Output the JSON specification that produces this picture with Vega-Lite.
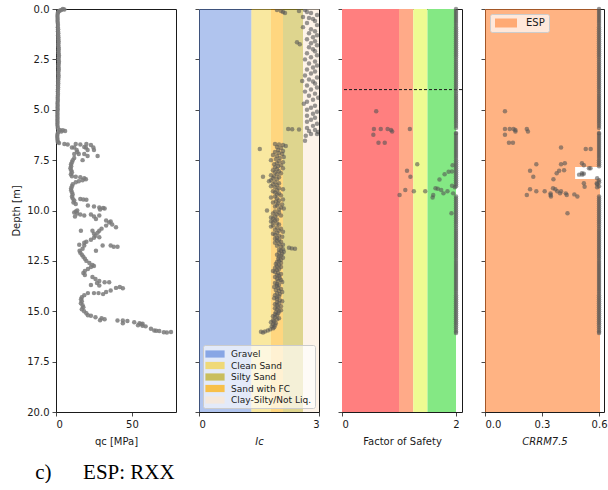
{
"$schema": "https://vega.github.io/schema/vega-lite/v6.json",
"padding": {"left": 11, "top": 3, "right": 0, "bottom": 0},
"background": "white",
"datasets": {
"qc": [
{"d":0.0,"v":4.5},{"d":0.02,"v":5.5},{"d":0.05,"v":3.5},{"d":0.08,"v":2.5},{"d":0.1,"v":2},{"d":0.15,"v":1.5},{"d":0.2,"v":1.2},{"d":0.3,"v":1.0},
{"d":0.4,"v":1.0},{"d":0.5,"v":1.1},{"d":0.6,"v":1.0},{"d":0.7,"v":1.2},{"d":0.8,"v":1.3},{"d":0.9,"v":1.2},{"d":1.0,"v":1.4},{"d":1.1,"v":1.3},{"d":1.2,"v":1.5},{"d":1.3,"v":1.4},{"d":1.4,"v":1.6},{"d":1.5,"v":1.5},{"d":1.6,"v":1.7},{"d":1.7,"v":1.6},{"d":1.8,"v":1.5},{"d":1.9,"v":1.7},{"d":2.0,"v":1.8},{"d":2.1,"v":1.6},{"d":2.2,"v":1.7},{"d":2.3,"v":1.9},{"d":2.4,"v":1.8},{"d":2.5,"v":1.7},{"d":2.6,"v":1.9},{"d":2.7,"v":1.8},{"d":2.8,"v":1.6},{"d":2.9,"v":1.7},{"d":3.0,"v":1.8},{"d":3.1,"v":1.6},{"d":3.2,"v":1.5},{"d":3.3,"v":1.7},{"d":3.4,"v":1.6},{"d":3.5,"v":1.5},{"d":3.6,"v":1.4},{"d":3.7,"v":1.5},{"d":3.8,"v":1.3},{"d":3.9,"v":1.4},{"d":4.0,"v":1.3},{"d":4.1,"v":1.2},{"d":4.2,"v":1.3},{"d":4.3,"v":1.2},{"d":4.4,"v":1.1},{"d":4.5,"v":1.2},{"d":4.6,"v":1.1},{"d":4.7,"v":1.0},{"d":4.8,"v":1.1},{"d":4.9,"v":1.0},{"d":5.0,"v":1.1},{"d":5.1,"v":0.9},{"d":5.2,"v":1.0},{"d":5.3,"v":0.9},{"d":5.4,"v":1.0},{"d":5.5,"v":0.9},{"d":5.6,"v":1.0},{"d":5.7,"v":0.9},{"d":5.8,"v":1.0},{"d":5.9,"v":1.2},{"d":6.0,"v":2.5},{"d":6.02,"v":4.5},{"d":6.05,"v":6},{"d":6.08,"v":3.5},{"d":6.1,"v":1.5},{"d":6.2,"v":1},{"d":6.3,"v":0.8},{"d":6.4,"v":0.9},{"d":6.5,"v":1.0},{"d":6.6,"v":1.2},{"d":6.65,"v":2},{"d":6.7,"v":5.5},
{"d":6.72,"v":7.7},{"d":6.7,"v":13},{"d":6.72,"v":16},{"d":6.7,"v":20},{"d":6.75,"v":23},{"d":6.87,"v":10.5},{"d":6.87,"v":12},{"d":6.85,"v":18.6},{"d":6.88,"v":19.7},{"d":6.87,"v":24.6},{"d":7.0,"v":13.6},{"d":7.0,"v":20.8},{"d":7.0,"v":25},{"d":7.1,"v":14},{"d":7.2,"v":12},{"d":7.2,"v":15},{"d":7.2,"v":18.6},{"d":7.3,"v":27.4},{"d":7.3,"v":20.8},{"d":7.4,"v":12},{"d":7.5,"v":11},{"d":7.5,"v":17.5},{"d":7.6,"v":10.5},{"d":7.7,"v":9.9},{"d":7.8,"v":10},{"d":7.9,"v":9.5},{"d":8.0,"v":10},{"d":8.1,"v":10.5},{"d":8.2,"v":9.8},{"d":8.3,"v":10.5},{"d":8.32,"v":13},{"d":8.35,"v":16},{"d":8.4,"v":18.6},{"d":8.45,"v":19.7},{"d":8.5,"v":17.5},{"d":8.55,"v":15},{"d":8.6,"v":13},{"d":8.7,"v":11},{"d":8.8,"v":10.5},{"d":8.9,"v":10},{"d":9.0,"v":10},{"d":9.1,"v":10.5},{"d":9.2,"v":11},{"d":9.3,"v":10.5},{"d":9.4,"v":11},{"d":9.43,"v":16},{"d":9.45,"v":18},{"d":9.47,"v":20},{"d":9.5,"v":12},{"d":9.6,"v":11.5},{"d":9.68,"v":13},{"d":9.75,"v":21},{"d":9.8,"v":25},{"d":9.85,"v":28.5},{"d":9.88,"v":31},{"d":9.9,"v":32},{"d":9.95,"v":29},{"d":10.0,"v":14},{"d":10.05,"v":13},{"d":10.1,"v":12},{"d":10.15,"v":14},{"d":10.2,"v":16},{"d":10.2,"v":23},{"d":10.25,"v":18.6},{"d":10.25,"v":28.5},{"d":10.3,"v":12.5},{"d":10.3,"v":25},{"d":10.42,"v":26.3},{"d":10.5,"v":33},{"d":10.55,"v":36},{"d":10.6,"v":35},{"d":10.7,"v":37},{"d":10.75,"v":33},{"d":10.83,"v":39.5},{"d":10.9,"v":30},{"d":11.0,"v":16.4},{"d":11.0,"v":24},{"d":11.0,"v":28.5},{"d":11.1,"v":27.4},{"d":11.15,"v":25},{"d":11.25,"v":26},{"d":11.33,"v":28.5},{"d":11.35,"v":25},{"d":11.45,"v":23},{"d":11.55,"v":20},{"d":11.6,"v":18.6},{"d":11.7,"v":15.3},{"d":11.74,"v":18.6},{"d":11.74,"v":30.7},{"d":11.74,"v":36},{"d":11.8,"v":40.5},{"d":11.8,"v":38},{"d":11.9,"v":17.5},{"d":12.0,"v":26.3},{"d":12.0,"v":15.5},{"d":12.1,"v":16},{"d":12.2,"v":17},{"d":12.3,"v":18},{"d":12.4,"v":19},{"d":12.5,"v":20},{"d":12.6,"v":22},{"d":12.7,"v":24},{"d":12.75,"v":25},{"d":12.8,"v":23},{"d":12.9,"v":21},{"d":13.0,"v":19},{"d":13.1,"v":18},{"d":13.2,"v":19},{"d":13.3,"v":24},{"d":13.4,"v":26},{"d":13.5,"v":28.5},{"d":13.56,"v":32},{"d":13.56,"v":35},{"d":13.6,"v":27},{"d":13.7,"v":23},{"d":13.72,"v":28.5},{"d":13.84,"v":39.5},{"d":13.86,"v":44},{"d":13.8,"v":42},{"d":13.97,"v":36},{"d":14.05,"v":33},{"d":14.1,"v":21},{"d":14.1,"v":25},{"d":14.1,"v":28},{"d":14.15,"v":31},{"d":14.2,"v":18.6},{"d":14.3,"v":17},{"d":14.4,"v":16.5},{"d":14.5,"v":17},{"d":14.6,"v":16.4},{"d":14.7,"v":17.5},{"d":14.8,"v":18},{"d":14.9,"v":17},{"d":15.0,"v":18.5},{"d":15.1,"v":20},{"d":15.2,"v":21},{"d":15.22,"v":23},{"d":15.3,"v":26},{"d":15.35,"v":30},{"d":15.4,"v":32},{"d":15.45,"v":29},{"d":15.46,"v":40.5},{"d":15.46,"v":44},{"d":15.48,"v":47},{"d":15.6,"v":44},{"d":15.55,"v":51.5},{"d":15.6,"v":55},{"d":15.62,"v":57},{"d":15.65,"v":56},{"d":15.7,"v":54},{"d":15.72,"v":57},{"d":15.75,"v":59},{"d":15.87,"v":62.5},{"d":15.95,"v":64.7},{"d":15.97,"v":66},{"d":15.98,"v":68},{"d":16.04,"v":71},{"d":16.05,"v":73},{"d":16.03,"v":75.7}
],
"ic": [
{"d":0.05,"v":1.95},{"d":0.1,"v":2.05},{"d":0.15,"v":2.1},{"d":0.2,"v":2.15},{"d":0.1,"v":2.5},{"d":0.05,"v":2.65},{"d":0.15,"v":2.7},{"d":0.2,"v":2.8},{"d":0.3,"v":2.95},{"d":0.4,"v":2.6},{"d":0.45,"v":2.75},{"d":0.5,"v":2.85},{"d":0.6,"v":2.9},{"d":0.7,"v":2.7},{"d":0.8,"v":2.95},{"d":0.9,"v":2.6},{"d":1.0,"v":2.8},{"d":1.1,"v":2.9},{"d":1.2,"v":2.75},{"d":1.3,"v":2.95},{"d":1.4,"v":2.85},{"d":1.5,"v":2.7},{"d":1.6,"v":2.9},{"d":1.65,"v":2.45},{"d":1.7,"v":2.8},{"d":1.75,"v":2.52},{"d":1.8,"v":2.95},{"d":1.9,"v":2.75},{"d":2.0,"v":2.85},{"d":2.1,"v":2.9},{"d":2.2,"v":2.7},{"d":2.3,"v":2.95},{"d":2.4,"v":2.8},{"d":2.5,"v":2.65},{"d":2.6,"v":2.9},{"d":2.7,"v":2.75},{"d":2.8,"v":2.95},{"d":2.9,"v":2.85},{"d":3.0,"v":2.7},{"d":3.1,"v":2.9},{"d":3.2,"v":2.8},{"d":3.3,"v":2.65},{"d":3.4,"v":2.95},{"d":3.5,"v":2.75},{"d":3.57,"v":2.58},{"d":3.6,"v":2.85},{"d":3.7,"v":2.9},{"d":3.8,"v":2.7},{"d":3.9,"v":2.95},{"d":4.0,"v":2.8},{"d":4.1,"v":2.65},{"d":4.2,"v":2.9},{"d":4.3,"v":2.75},{"d":4.4,"v":2.98},{"d":4.5,"v":2.85},{"d":4.6,"v":2.7},{"d":4.7,"v":2.62},{"d":4.8,"v":2.9},{"d":4.9,"v":2.8},{"d":5.0,"v":2.7},{"d":5.1,"v":2.95},{"d":5.2,"v":2.85},{"d":5.3,"v":2.7},{"d":5.4,"v":2.9},{"d":5.5,"v":2.8},{"d":5.6,"v":2.7},{"d":5.7,"v":2.95},{"d":5.8,"v":2.85},{"d":5.9,"v":2.7},{"d":5.95,"v":2.23},{"d":5.97,"v":2.33},{"d":5.98,"v":2.5},{"d":6.0,"v":2.9},{"d":6.05,"v":2.75},{"d":6.1,"v":2.98},{"d":6.2,"v":2.8},{"d":6.29,"v":2.67},{"d":6.54,"v":2.65},{"d":6.2,"v":2.95},
{"d":6.7,"v":1.9},{"d":6.72,"v":2.0},{"d":6.75,"v":2.1},{"d":6.8,"v":2.17},{"d":6.85,"v":1.95},{"d":6.9,"v":2.05},{"d":6.95,"v":1.52},{"d":7.0,"v":1.98},{"d":7.05,"v":2.1},{"d":7.1,"v":1.9},{"d":7.15,"v":2.0},{"d":7.2,"v":2.08},{"d":7.25,"v":1.85},{"d":7.3,"v":1.95},{"d":7.35,"v":2.12},{"d":7.4,"v":2.02},{"d":7.45,"v":1.92},{"d":7.5,"v":1.8},{"d":7.55,"v":2.0},{"d":7.6,"v":2.1},{"d":7.65,"v":1.95},{"d":7.7,"v":1.88},{"d":7.75,"v":2.05},{"d":7.8,"v":1.98},{"d":7.85,"v":1.9},{"d":7.9,"v":2.1},{"d":7.95,"v":1.95},{"d":8.0,"v":1.85},{"d":8.05,"v":2.0},{"d":8.1,"v":1.9},{"d":8.15,"v":2.05},{"d":8.2,"v":1.95},{"d":8.25,"v":1.8},{"d":8.32,"v":1.6},{"d":8.3,"v":1.88},{"d":8.35,"v":2.0},{"d":8.4,"v":1.85},{"d":8.45,"v":1.95},{"d":8.5,"v":1.8},{"d":8.55,"v":1.75},{"d":8.6,"v":1.9},{"d":8.65,"v":2.0},{"d":8.7,"v":1.85},{"d":8.75,"v":1.95},{"d":8.8,"v":1.8},{"d":8.85,"v":1.9},{"d":8.9,"v":2.0},{"d":8.95,"v":2.1},{"d":9.0,"v":1.95},{"d":9.05,"v":1.85},{"d":9.1,"v":1.9},{"d":9.15,"v":2.0},{"d":9.2,"v":1.95},{"d":9.25,"v":2.05},{"d":9.3,"v":1.9},{"d":9.35,"v":1.8},{"d":9.4,"v":1.95},{"d":9.45,"v":2.1},{"d":9.5,"v":2.0},{"d":9.55,"v":1.92},{"d":9.6,"v":1.85},{"d":9.65,"v":1.98},{"d":9.7,"v":2.08},{"d":9.75,"v":1.95},{"d":9.8,"v":1.9},{"d":9.85,"v":2.05},{"d":9.9,"v":2.12},{"d":9.95,"v":2.0},{"d":10.0,"v":1.7},{"d":10.05,"v":1.9},{"d":10.1,"v":2.0},{"d":10.15,"v":1.85},{"d":10.2,"v":1.95},{"d":10.25,"v":2.05},{"d":10.3,"v":1.9},{"d":10.35,"v":1.8},{"d":10.4,"v":1.85},{"d":10.45,"v":1.95},{"d":10.5,"v":1.9},{"d":10.55,"v":1.8},{"d":10.6,"v":1.85},{"d":10.65,"v":1.95},{"d":10.7,"v":2.0},{"d":10.75,"v":1.85},{"d":10.8,"v":1.8},{"d":10.85,"v":1.95},{"d":10.9,"v":2.05},{"d":10.95,"v":1.9},{"d":11.0,"v":2.0},{"d":11.05,"v":2.1},{"d":11.1,"v":1.95},{"d":11.15,"v":1.85},{"d":11.2,"v":1.9},{"d":11.25,"v":2.0},{"d":11.3,"v":2.08},{"d":11.35,"v":1.95},{"d":11.4,"v":1.9},{"d":11.45,"v":2.0},{"d":11.5,"v":1.95},{"d":11.55,"v":2.05},{"d":11.6,"v":1.9},{"d":11.65,"v":2.0},{"d":11.7,"v":2.1},{"d":11.75,"v":1.95},{"d":11.8,"v":2.05},{"d":11.85,"v":2.25},{"d":11.88,"v":2.32},{"d":11.9,"v":2.4},{"d":11.92,"v":2.1},{"d":11.95,"v":2.0},{"d":12.0,"v":2.05},{"d":12.05,"v":2.12},{"d":12.1,"v":2.0},{"d":12.15,"v":2.08},{"d":12.2,"v":1.95},{"d":12.25,"v":2.05},{"d":12.3,"v":2.0},{"d":12.35,"v":2.1},{"d":12.4,"v":1.98},{"d":12.45,"v":2.05},{"d":12.5,"v":2.0},{"d":12.55,"v":1.95},{"d":12.6,"v":2.05},{"d":12.65,"v":1.92},{"d":12.7,"v":2.0},{"d":12.75,"v":1.95},{"d":12.8,"v":2.05},{"d":12.85,"v":1.9},{"d":12.9,"v":2.0},{"d":12.95,"v":1.95},{"d":13.0,"v":1.85},{"d":13.05,"v":1.9},{"d":13.1,"v":1.98},{"d":13.15,"v":2.05},{"d":13.2,"v":1.95},{"d":13.25,"v":2.0},{"d":13.3,"v":1.9},{"d":13.35,"v":2.02},{"d":13.4,"v":1.95},{"d":13.45,"v":2.05},{"d":13.5,"v":1.98},{"d":13.55,"v":2.08},{"d":13.6,"v":1.9},{"d":13.65,"v":1.95},{"d":13.7,"v":2.0},{"d":13.75,"v":1.95},{"d":13.8,"v":1.88},{"d":13.85,"v":1.98},{"d":13.9,"v":2.05},{"d":13.95,"v":1.92},{"d":14.0,"v":2.0},{"d":14.05,"v":2.08},{"d":14.1,"v":1.95},{"d":14.15,"v":2.02},{"d":14.2,"v":1.9},{"d":14.25,"v":2.0},{"d":14.3,"v":1.95},{"d":14.35,"v":1.88},{"d":14.4,"v":1.95},{"d":14.45,"v":2.02},{"d":14.5,"v":2.08},{"d":14.55,"v":1.95},{"d":14.6,"v":2.0},{"d":14.65,"v":1.9},{"d":14.7,"v":1.95},{"d":14.75,"v":2.05},{"d":14.8,"v":1.98},{"d":14.85,"v":1.9},{"d":14.9,"v":1.95},{"d":14.95,"v":2.05},{"d":15.0,"v":2.0},{"d":15.05,"v":1.92},{"d":15.1,"v":1.98},{"d":15.15,"v":1.9},{"d":15.2,"v":1.95},{"d":15.25,"v":1.85},{"d":15.3,"v":1.9},{"d":15.35,"v":2.0},{"d":15.4,"v":1.95},{"d":15.45,"v":1.85},{"d":15.5,"v":1.88},{"d":15.55,"v":1.8},{"d":15.6,"v":1.92},{"d":15.65,"v":1.85},{"d":15.7,"v":1.9},{"d":15.75,"v":1.82},{"d":15.8,"v":1.88},{"d":15.85,"v":1.85},{"d":15.9,"v":1.78},{"d":15.95,"v":1.72},{"d":16.0,"v":1.65},{"d":16.02,"v":1.55},{"d":16.05,"v":1.6}
],
"fs": [
{"d":0.0,"v":2},{"d":0.1,"v":2},{"d":0.2,"v":2},{"d":0.3,"v":2},{"d":0.4,"v":2},{"d":0.5,"v":2},{"d":0.6,"v":2},{"d":0.7,"v":2},{"d":0.8,"v":2},{"d":0.9,"v":2},{"d":1.0,"v":2},{"d":1.1,"v":2},{"d":1.2,"v":2},{"d":1.3,"v":2},{"d":1.4,"v":2},{"d":1.5,"v":2},{"d":1.6,"v":2},{"d":1.7,"v":2},{"d":1.8,"v":2},{"d":1.9,"v":2},{"d":2.0,"v":2},{"d":2.1,"v":2},{"d":2.2,"v":2},{"d":2.3,"v":2},{"d":2.4,"v":2},{"d":2.5,"v":2},{"d":2.6,"v":2},{"d":2.7,"v":2},{"d":2.8,"v":2},{"d":2.9,"v":2},{"d":3.0,"v":2},{"d":3.1,"v":2},{"d":3.2,"v":2},{"d":3.3,"v":2},{"d":3.4,"v":2},{"d":3.5,"v":2},{"d":3.6,"v":2},{"d":3.7,"v":2},{"d":3.8,"v":2},{"d":3.9,"v":2},{"d":4.0,"v":2},{"d":4.1,"v":2},{"d":4.2,"v":2},{"d":4.3,"v":2},{"d":4.4,"v":2},{"d":4.5,"v":2},{"d":4.6,"v":2},{"d":4.7,"v":2},{"d":4.8,"v":2},{"d":4.9,"v":2},{"d":5.0,"v":2},{"d":5.1,"v":2},{"d":5.2,"v":2},{"d":5.3,"v":2},{"d":5.4,"v":2},{"d":5.5,"v":2},{"d":5.6,"v":2},{"d":5.7,"v":2},{"d":5.8,"v":2},{"d":5.9,"v":2},{"d":6.15,"v":2},{"d":6.2,"v":2},{"d":6.3,"v":2},{"d":6.4,"v":2},{"d":6.5,"v":2},{"d":6.6,"v":2},{"d":6.7,"v":2},{"d":6.8,"v":2},{"d":6.9,"v":2},{"d":7.0,"v":2},{"d":7.1,"v":2},{"d":7.2,"v":2},{"d":7.3,"v":2},{"d":7.4,"v":2},{"d":7.5,"v":2},{"d":7.6,"v":2},{"d":7.7,"v":2},{"d":7.8,"v":2},{"d":7.9,"v":2},{"d":8.0,"v":2},{"d":8.1,"v":2},{"d":8.2,"v":2},{"d":8.3,"v":2},{"d":8.4,"v":2},{"d":8.5,"v":2},{"d":8.6,"v":2},{"d":8.7,"v":2},{"d":8.8,"v":2},{"d":8.85,"v":1.98},{"d":9.3,"v":2},{"d":9.4,"v":2},{"d":9.5,"v":2},{"d":9.6,"v":2},{"d":9.7,"v":2},{"d":9.8,"v":2},{"d":9.9,"v":2},{"d":10.0,"v":2},{"d":10.1,"v":2},{"d":10.2,"v":2},{"d":10.3,"v":2},{"d":10.4,"v":2},{"d":10.5,"v":2},{"d":10.6,"v":2},{"d":10.7,"v":2},{"d":10.8,"v":2},{"d":10.9,"v":2},{"d":11.0,"v":2},{"d":11.1,"v":2},{"d":11.2,"v":2},{"d":11.3,"v":2},{"d":11.4,"v":2},{"d":11.5,"v":2},{"d":11.6,"v":2},{"d":11.7,"v":2},{"d":11.8,"v":2},{"d":11.9,"v":2},{"d":12.0,"v":2},{"d":12.1,"v":2},{"d":12.2,"v":2},{"d":12.3,"v":2},{"d":12.4,"v":2},{"d":12.5,"v":2},{"d":12.6,"v":2},{"d":12.7,"v":2},{"d":12.8,"v":2},{"d":12.9,"v":2},{"d":13.0,"v":2},{"d":13.1,"v":2},{"d":13.2,"v":2},{"d":13.3,"v":2},{"d":13.4,"v":2},{"d":13.5,"v":2},{"d":13.6,"v":2},{"d":13.7,"v":2},{"d":13.8,"v":2},{"d":13.9,"v":2},{"d":14.0,"v":2},{"d":14.1,"v":2},{"d":14.2,"v":2},{"d":14.3,"v":2},{"d":14.4,"v":2},{"d":14.5,"v":2},{"d":14.6,"v":2},{"d":14.7,"v":2},{"d":14.8,"v":2},{"d":14.9,"v":2},{"d":15.0,"v":2},{"d":15.1,"v":2},{"d":15.2,"v":2},{"d":15.3,"v":2},{"d":15.4,"v":2},{"d":15.5,"v":2},{"d":15.6,"v":2},{"d":15.7,"v":2},{"d":15.8,"v":2},{"d":15.9,"v":2},{"d":16.0,"v":2},{"d":16.08,"v":2},
{"d":5.07,"v":0.60},{"d":5.96,"v":0.56},{"d":5.96,"v":0.68},{"d":5.96,"v":0.80},{"d":6.0,"v":0.86},{"d":5.96,"v":1.19},{"d":6.08,"v":0.88},{"d":6.24,"v":0.55},{"d":6.64,"v":0.64},{"d":6.64,"v":0.75},{"d":7.70,"v":1.32},{"d":8.03,"v":1.14},{"d":8.32,"v":1.20},{"d":7.75,"v":1.94},{"d":8.06,"v":1.93},{"d":8.08,"v":1.87},{"d":8.2,"v":1.80},{"d":8.46,"v":1.71},{"d":8.77,"v":1.93},{"d":8.9,"v":1.64},{"d":8.92,"v":1.68},{"d":8.98,"v":1.11},{"d":8.98,"v":1.74},{"d":9.05,"v":1.46},{"d":9.05,"v":1.26},{"d":9.05,"v":1.85},{"d":9.15,"v":1.78},{"d":9.15,"v":1.95},{"d":9.23,"v":1.01},{"d":9.23,"v":1.60},{"d":9.35,"v":1.59},{"d":10.14,"v":1.92}
],
"crr": [
{"d":0.0,"v":0.6},{"d":0.1,"v":0.6},{"d":0.2,"v":0.6},{"d":0.3,"v":0.6},{"d":0.4,"v":0.6},{"d":0.5,"v":0.6},{"d":0.6,"v":0.6},{"d":0.7,"v":0.6},{"d":0.8,"v":0.6},{"d":0.9,"v":0.6},{"d":1.0,"v":0.6},{"d":1.1,"v":0.6},{"d":1.2,"v":0.6},{"d":1.3,"v":0.6},{"d":1.4,"v":0.6},{"d":1.5,"v":0.6},{"d":1.6,"v":0.6},{"d":1.7,"v":0.6},{"d":1.8,"v":0.6},{"d":1.9,"v":0.6},{"d":2.0,"v":0.6},{"d":2.1,"v":0.6},{"d":2.2,"v":0.6},{"d":2.3,"v":0.6},{"d":2.4,"v":0.6},{"d":2.5,"v":0.6},{"d":2.6,"v":0.6},{"d":2.7,"v":0.6},{"d":2.8,"v":0.6},{"d":2.9,"v":0.6},{"d":3.0,"v":0.6},{"d":3.1,"v":0.6},{"d":3.2,"v":0.6},{"d":3.3,"v":0.6},{"d":3.4,"v":0.6},{"d":3.5,"v":0.6},{"d":3.6,"v":0.6},{"d":3.7,"v":0.6},{"d":3.8,"v":0.6},{"d":3.9,"v":0.6},{"d":4.0,"v":0.6},{"d":4.1,"v":0.6},{"d":4.2,"v":0.6},{"d":4.3,"v":0.6},{"d":4.4,"v":0.6},{"d":4.5,"v":0.6},{"d":4.6,"v":0.6},{"d":4.7,"v":0.6},{"d":4.8,"v":0.6},{"d":4.9,"v":0.6},{"d":5.0,"v":0.6},{"d":5.1,"v":0.6},{"d":5.2,"v":0.6},{"d":5.3,"v":0.6},{"d":5.4,"v":0.6},{"d":5.5,"v":0.6},{"d":5.6,"v":0.6},{"d":5.7,"v":0.6},{"d":5.8,"v":0.6},{"d":5.9,"v":0.6},{"d":6.15,"v":0.6},{"d":6.2,"v":0.6},{"d":6.3,"v":0.6},{"d":6.4,"v":0.6},{"d":6.5,"v":0.6},{"d":6.6,"v":0.6},{"d":6.7,"v":0.6},{"d":6.8,"v":0.6},{"d":6.9,"v":0.6},{"d":7.0,"v":0.6},{"d":7.1,"v":0.6},{"d":7.2,"v":0.6},{"d":7.3,"v":0.6},{"d":7.4,"v":0.6},{"d":7.5,"v":0.6},{"d":7.6,"v":0.6},{"d":7.7,"v":0.6},{"d":7.8,"v":0.6},{"d":7.9,"v":0.555},{"d":8.15,"v":0.51},{"d":8.17,"v":0.52},{"d":8.4,"v":0.59},{"d":8.5,"v":0.6},{"d":8.6,"v":0.6},{"d":8.7,"v":0.59},{"d":8.8,"v":0.6},{"d":8.85,"v":0.59},{"d":9.3,"v":0.6},{"d":9.4,"v":0.6},{"d":9.5,"v":0.6},{"d":9.6,"v":0.6},{"d":9.7,"v":0.6},{"d":9.8,"v":0.6},{"d":9.9,"v":0.6},{"d":10.0,"v":0.6},{"d":10.1,"v":0.6},{"d":10.2,"v":0.6},{"d":10.3,"v":0.6},{"d":10.4,"v":0.6},{"d":10.5,"v":0.6},{"d":10.6,"v":0.6},{"d":10.7,"v":0.6},{"d":10.8,"v":0.6},{"d":10.9,"v":0.6},{"d":11.0,"v":0.6},{"d":11.1,"v":0.6},{"d":11.2,"v":0.6},{"d":11.3,"v":0.6},{"d":11.4,"v":0.6},{"d":11.5,"v":0.6},{"d":11.6,"v":0.6},{"d":11.7,"v":0.6},{"d":11.8,"v":0.6},{"d":11.9,"v":0.6},{"d":12.0,"v":0.6},{"d":12.1,"v":0.6},{"d":12.2,"v":0.6},{"d":12.3,"v":0.6},{"d":12.4,"v":0.6},{"d":12.5,"v":0.6},{"d":12.6,"v":0.6},{"d":12.7,"v":0.6},{"d":12.8,"v":0.6},{"d":12.9,"v":0.6},{"d":13.0,"v":0.6},{"d":13.1,"v":0.6},{"d":13.2,"v":0.6},{"d":13.3,"v":0.6},{"d":13.4,"v":0.6},{"d":13.5,"v":0.6},{"d":13.6,"v":0.6},{"d":13.7,"v":0.6},{"d":13.8,"v":0.6},{"d":13.9,"v":0.6},{"d":14.0,"v":0.6},{"d":14.1,"v":0.6},{"d":14.2,"v":0.6},{"d":14.3,"v":0.6},{"d":14.4,"v":0.6},{"d":14.5,"v":0.6},{"d":14.6,"v":0.6},{"d":14.7,"v":0.6},{"d":14.8,"v":0.6},{"d":14.9,"v":0.6},{"d":15.0,"v":0.6},{"d":15.1,"v":0.6},{"d":15.2,"v":0.6},{"d":15.3,"v":0.6},{"d":15.4,"v":0.6},{"d":15.5,"v":0.6},{"d":15.6,"v":0.6},{"d":15.7,"v":0.6},{"d":15.8,"v":0.6},{"d":15.9,"v":0.6},{"d":16.0,"v":0.6},{"d":16.08,"v":0.6},
{"d":5.07,"v":0.105},{"d":5.96,"v":0.105},{"d":5.96,"v":0.13},{"d":5.96,"v":0.15},{"d":6.0,"v":0.16},{"d":5.96,"v":0.22},{"d":6.08,"v":0.16},{"d":6.08,"v":0.226},{"d":6.24,"v":0.105},{"d":6.64,"v":0.126},{"d":6.64,"v":0.147},{"d":6.87,"v":0.40},{"d":6.95,"v":0.53},{"d":6.95,"v":0.556},{"d":7.70,"v":0.27},{"d":7.70,"v":0.40},{"d":7.65,"v":0.42},{"d":7.65,"v":0.51},{"d":7.75,"v":0.52},{"d":7.9,"v":0.547},{"d":8.03,"v":0.237},{"d":8.03,"v":0.39},{"d":8.0,"v":0.416},{"d":8.15,"v":0.377},{"d":8.22,"v":0.495},{"d":8.22,"v":0.512},{"d":8.32,"v":0.254},{"d":8.45,"v":0.36},{"d":8.65,"v":0.52},{"d":8.65,"v":0.588},{"d":8.82,"v":0.524},{"d":8.9,"v":0.358},{"d":8.95,"v":0.237},{"d":8.95,"v":0.37},{"d":9.05,"v":0.27},{"d":9.05,"v":0.314},{"d":9.05,"v":0.38},{"d":9.05,"v":0.40},{"d":9.15,"v":0.345},{"d":9.15,"v":0.395},{"d":9.15,"v":0.425},{"d":9.23,"v":0.22},{"d":9.23,"v":0.345},{"d":9.2,"v":0.47},{"d":9.23,"v":0.43},{"d":9.3,"v":0.347},{"d":9.3,"v":0.486},{"d":10.14,"v":0.434}
],
"icz": [
{"zone":"Gravel","lo":0,"hi":1.31},{"zone":"Clean Sand","lo":1.31,"hi":1.8},{"zone":"Sand with FC","lo":1.8,"hi":2.1},{"zone":"Silty Sand","lo":2.1,"hi":2.6},{"zone":"Clay-Silty/Not Liq.","lo":2.6,"hi":3}
],
"fsz": [
{"zone":"a","lo":0,"hi":1},{"zone":"b","lo":1,"hi":1.25},{"zone":"c","lo":1.25,"hi":1.5},{"zone":"d","lo":1.5,"hi":2}
],
"wt": [{"d":4.0}],
"esp": [
{"zone":"ESP","lo":0,"hi":0.605,"top":0,"bot":7.84},{"zone":"ESP","lo":0,"hi":0.474,"top":7.84,"bot":8.44},{"zone":"ESP","lo":0,"hi":0.605,"top":8.44,"bot":20}
]
},
"config": {
"font": "DejaVu Sans",
"view": {"stroke": "#1a1a1a", "strokeWidth": 1},
"axis": {"grid": false, "domain": false, "tickColor": "#1a1a1a", "tickSize": 4, "tickWidth": 0.8, "labelFont": "DejaVu Sans", "labelFontSize": 10, "labelColor": "#1a1a1a", "labelPadding": 3, "titleFont": "DejaVu Sans", "titleFontSize": 10, "titleFontWeight": "normal", "titleColor": "#1a1a1a", "titlePadding": 7, "zindex": 1}
},
"spacing": 23,
"bounds": "flush",
"resolve": {"scale": {"color": "independent"}, "legend": {"color": "independent"}},
"title": {"text": "c)\u00a0\u00a0\u00a0\u00a0\u00a0\u00a0ESP: RXX", "orient": "bottom", "anchor": "start", "font": "Liberation Serif", "fontSize": 21, "fontWeight": "normal", "color": "black", "offset": 15, "dx": 24},
"hconcat": [
{
"width": 120, "height": 403,
"data": {"name": "qc"},
"mark": {"type": "circle", "size": 20, "color": "#7a7a7a", "opacity": 0.85},
"encoding": {
"x": {"field": "v", "type": "quantitative", "scale": {"domain": [0, 79], "nice": false, "zero": false}, "axis": {"values": [0, 50], "format": "d", "title": "qc [MPa]"}},
"y": {"field": "d", "type": "quantitative", "scale": {"domain": [0, 20], "reverse": true, "nice": false}, "axis": {"values": [0, 2.5, 5, 7.5, 10, 12.5, 15, 17.5, 20], "format": ".1f", "title": "Depth [m]", "titlePadding": 5}}
}
},
{
"width": 120, "height": 403,
"layer": [
{"data": {"name": "icz"},
"mark": {"type": "rect", "opacity": 0.5},
"encoding": {
"x": {"field": "lo", "type": "quantitative", "scale": {"domain": [0, 3], "nice": false}, "axis": {"values": [0, 1, 2, 3], "format": "d", "title": "Ic", "titleFontStyle": "italic"}},
"x2": {"field": "hi"},
"y": {"datum": 0, "type": "quantitative", "scale": {"domain": [0, 20], "reverse": true, "nice": false}, "axis": {"values": [0, 2.5, 5, 7.5, 10, 12.5, 15, 17.5, 20], "labels": false, "title": null}},
"y2": {"datum": 20},
"color": {"field": "zone", "type": "nominal",
"scale": {"domain": ["Gravel", "Clean Sand", "Silty Sand", "Sand with FC", "Clay-Silty/Not Liq."], "range": ["#6189dd", "#f3d141", "#bdab1d", "#ffae00", "#fbe7d1"]},
"legend": {"title": null, "orient": "bottom-left", "offset": 4, "padding": 3, "fillColor": "rgba(255,255,255,0.65)", "strokeColor": "#cccccc", "cornerRadius": 2, "symbolType": "M-1.6,-0.6H1.6V0.6H-1.6Z", "symbolSize": 144, "symbolOffset": 3, "symbolOpacity": 0.7, "symbolStrokeWidth": 0, "labelFontSize": 9, "labelColor": "#1a1a1a", "labelOffset": 10, "rowPadding": 0.5}}
}},
{"data": {"name": "ic"},
"mark": {"type": "circle", "size": 20, "color": "#555555", "opacity": 0.6, "clip": true},
"encoding": {
"x": {"field": "v", "type": "quantitative"},
"y": {"field": "d", "type": "quantitative"}
}}
]
},
{
"width": 120, "height": 403,
"layer": [
{"data": {"name": "fsz"},
"mark": {"type": "rect"},
"encoding": {
"x": {"field": "lo", "type": "quantitative", "scale": {"domain": [0, 2.105], "nice": false}, "axis": {"values": [0, 1, 2], "format": "d", "title": "Factor of Safety"}},
"x2": {"field": "hi"},
"y": {"datum": 0, "type": "quantitative", "scale": {"domain": [0, 20], "reverse": true, "nice": false}, "axis": {"values": [0, 2.5, 5, 7.5, 10, 12.5, 15, 17.5, 20], "labels": false, "title": null}},
"y2": {"datum": 20},
"color": {"field": "zone", "type": "nominal", "scale": {"domain": ["a", "b", "c", "d"], "range": ["#ff7f7f", "#ffaa88", "#eefb92", "#84e884"]}, "legend": null}
}},
{"data": {"name": "wt"},
"mark": {"type": "rule", "color": "#1a1a1a", "strokeDash": [3, 2], "strokeWidth": 1},
"encoding": {"y": {"field": "d", "type": "quantitative"}}},
{"data": {"name": "fs"},
"mark": {"type": "circle", "size": 20, "color": "#555555", "opacity": 0.6},
"encoding": {
"x": {"field": "v", "type": "quantitative"},
"y": {"field": "d", "type": "quantitative"}
}}
]
},
{
"width": 119, "height": 403,
"layer": [
{"data": {"name": "esp"},
"mark": {"type": "rect", "opacity": 0.6},
"encoding": {
"x": {"field": "lo", "type": "quantitative", "scale": {"domain": [0, 0.626], "nice": false}, "axis": {"values": [0, 0.3, 0.6], "format": ".1f", "title": "CRRM7.5", "titleFontStyle": "italic"}},
"x2": {"field": "hi"},
"y": {"field": "top", "type": "quantitative", "scale": {"domain": [0, 20], "reverse": true, "nice": false}, "axis": {"values": [0, 2.5, 5, 7.5, 10, 12.5, 15, 17.5, 20], "labels": false, "title": null}},
"y2": {"field": "bot"},
"color": {"field": "zone", "type": "nominal", "scale": {"domain": ["ESP"], "range": ["#ff8030"]},
"legend": {"title": null, "orient": "top-left", "offset": 5, "padding": 4, "fillColor": "rgba(255,255,255,0.7)", "strokeColor": "#cccccc", "cornerRadius": 2, "symbolType": "M-2.2,-0.9H2.2V0.9H-2.2Z", "symbolSize": 100, "symbolOffset": 7, "symbolOpacity": 0.6, "symbolStrokeWidth": 0, "labelFontSize": 10, "labelColor": "#1a1a1a", "labelOffset": 15}}
}},
{"data": {"name": "crr"},
"mark": {"type": "circle", "size": 20, "color": "#555555", "opacity": 0.6},
"encoding": {
"x": {"field": "v", "type": "quantitative"},
"y": {"field": "d", "type": "quantitative"}
}}
]
}
]
}
